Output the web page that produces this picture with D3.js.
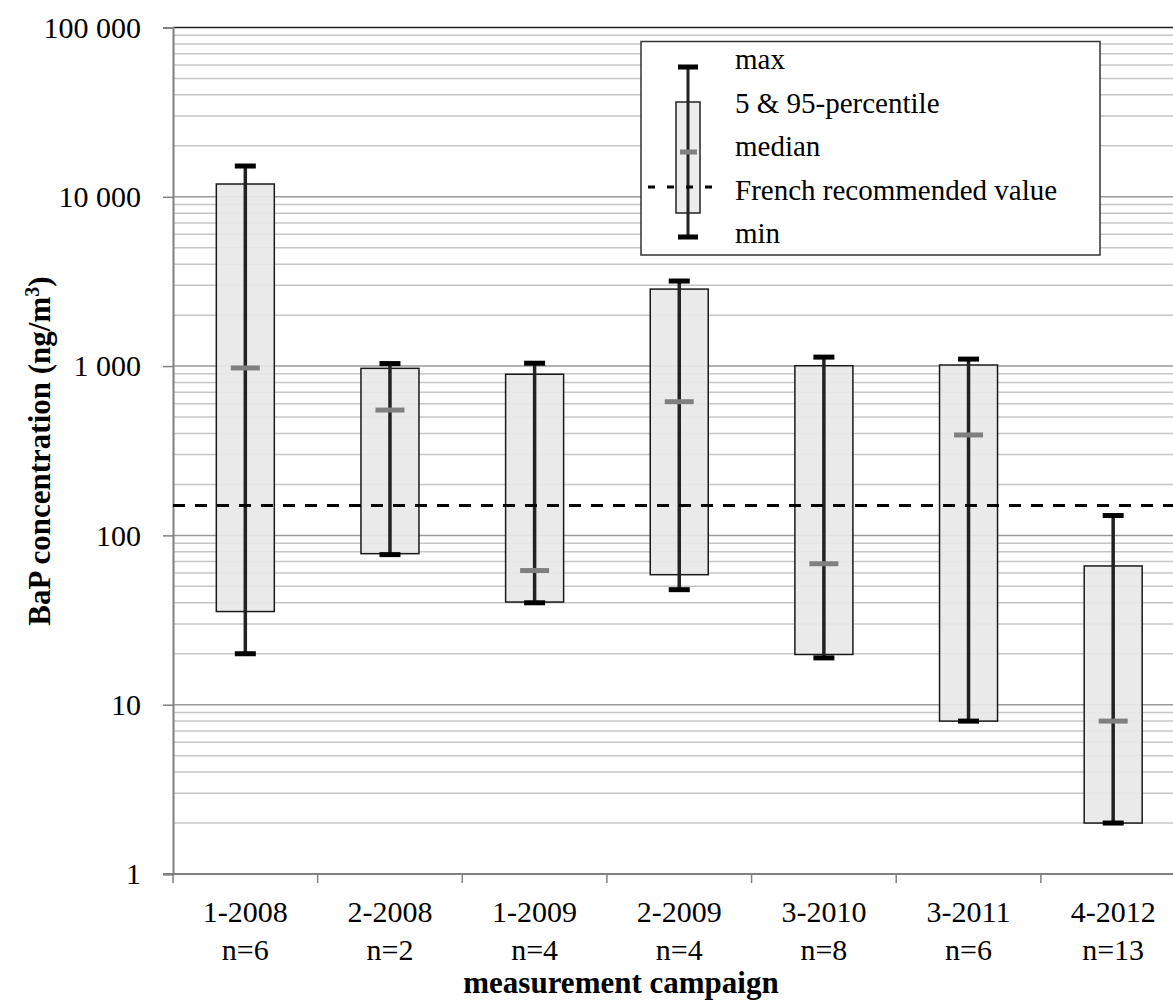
<!DOCTYPE html>
<html>
<head>
<meta charset="utf-8">
<script src="https://cdn.jsdelivr.net/npm/d3@7"></script>
<style>
body { margin: 0; background: #fff; }
</style>
</head>
<body>
<div id="chart"></div>
<script>
var campaigns = ["1-2008", "2-2008", "1-2009", "2-2009", "3-2010", "3-2011", "4-2012"];
var counts = ["n=6", "n=2", "n=4", "n=4", "n=8", "n=6", "n=13"];
var maxVals = [15200, 1035, 1040, 3180, 1130, 1100, 131];
var p95Vals = [11900, 970, 895, 2850, 1005, 1015, 66];
var medianVals = [975, 550, 62, 616, 68, 392, 8];
var p5Vals = [35.5, 78, 40.4, 58.6, 19.8, 8, 2];
var minVals = [20, 77, 40, 47.8, 18.9, 8, 2];
var frenchValue = 150;
var yTicks = [1, 10, 100, 1000, 10000, 100000];
var legendLabels = ["max", "5 & 95-percentile", "median", "French recommended value", "min"];

var serif = "'Liberation Serif', 'Times New Roman', Tinos, serif";

window.onload = function(){
	var w = 1173, h = 1003;
	var left = 173, top = 27.5, bottom = 874, right = 1185.5;

	var svg = d3.select("#chart").append("svg")
		.attr("width", w)
		.attr("height", h);

	var y = d3.scaleLog().domain([1, 100000]).range([bottom, top]);
	var x = d3.scaleBand().domain(campaigns).range([left, right]).padding(0);

	var rows = campaigns.map(function(c, i){
		return {c: c, max: maxVals[i], p95: p95Vals[i], med: medianVals[i], p5: p5Vals[i], min: minVals[i]};
	});

	// minor grid
	var minor = [];
	for (var d = 1; d < 100000; d *= 10) {
		for (var k = 2; k <= 9; k++) minor.push(d * k);
	}
	svg.append("g").selectAll("line").data(minor).enter().append("line")
		.attr("x1", left).attr("x2", w)
		.attr("y1", function(v){ return y(v); }).attr("y2", function(v){ return y(v); })
		.attr("stroke", "#c6c6c6").attr("stroke-width", 1.5);
	svg.append("g").selectAll("line").data(yTicks.slice(1, 5)).enter().append("line")
		.attr("x1", left).attr("x2", w)
		.attr("y1", function(v){ return y(v); }).attr("y2", function(v){ return y(v); })
		.attr("stroke", "#9a9a9a").attr("stroke-width", 1.5);
	// top border
	svg.append("line").attr("x1", left).attr("x2", w)
		.attr("y1", y(100000)).attr("y2", y(100000))
		.attr("stroke", "#222").attr("stroke-width", 1.5);

	// y axis
	var fmt = d3.format(",");
	var yAxis = svg.append("g").attr("transform", "translate(" + left + ",0)")
		.call(d3.axisLeft(y).tickValues(yTicks).tickSize(10).tickPadding(22)
			.tickFormat(function(v){ return fmt(v).replace(/,/g, " "); }));
	yAxis.attr("font-family", serif).attr("font-size", 30);
	yAxis.select(".domain").attr("stroke", "#808080").attr("stroke-width", 2);
	yAxis.selectAll(".tick line").attr("stroke", "#808080").attr("stroke-width", 1.5);
	yAxis.selectAll(".tick text").attr("fill", "#000")
		.attr("font-family", serif).attr("font-size", 30);

	// x axis
	var xAxis = svg.append("g").attr("transform", "translate(0," + bottom + ")");
	xAxis.append("line").attr("x1", left - 10).attr("x2", w)
		.attr("stroke", "#808080").attr("stroke-width", 2);
	xAxis.selectAll(".xt").data(campaigns).enter().append("line")
		.attr("x1", function(c){ return x(c); }).attr("x2", function(c){ return x(c); })
		.attr("y1", 0).attr("y2", 9)
		.attr("stroke", "#808080").attr("stroke-width", 1.5);
	xAxis.selectAll(".xl").data(campaigns).enter().append("text")
		.attr("text-anchor", "middle").attr("font-family", serif).attr("font-size", 30)
		.attr("x", function(c){ return x(c) + x.bandwidth() / 2; }).attr("y", 48)
		.text(function(c){ return c; });
	xAxis.selectAll(".xn").data(counts).enter().append("text")
		.attr("text-anchor", "middle").attr("font-family", serif).attr("font-size", 30)
		.attr("x", function(c, i){ return x(campaigns[i]) + x.bandwidth() / 2; }).attr("y", 86)
		.text(function(c){ return c; });

	// boxes
	var bw = 58, capW = 21, medW = 29;
	var g = svg.append("g").selectAll("g").data(rows).enter().append("g")
		.attr("transform", function(d){ return "translate(" + (x(d.c) + x.bandwidth() / 2) + ",0)"; });
	g.append("rect")
		.attr("x", -bw / 2).attr("width", bw)
		.attr("y", function(d){ return y(d.p95); })
		.attr("height", function(d){ return y(d.p5) - y(d.p95); })
		.attr("fill", "#e8e8e8").attr("fill-opacity", 0.92)
		.attr("stroke", "#1a1a1a").attr("stroke-width", 1.5);
	g.append("line").attr("x1", 0).attr("x2", 0)
		.attr("y1", function(d){ return y(d.max); }).attr("y2", function(d){ return y(d.min); })
		.attr("stroke", "#222").attr("stroke-width", 3.5);
	g.append("line").attr("x1", -capW / 2).attr("x2", capW / 2)
		.attr("y1", function(d){ return y(d.max); }).attr("y2", function(d){ return y(d.max); })
		.attr("stroke", "#000").attr("stroke-width", 5);
	g.append("line").attr("x1", -capW / 2).attr("x2", capW / 2)
		.attr("y1", function(d){ return y(d.min); }).attr("y2", function(d){ return y(d.min); })
		.attr("stroke", "#000").attr("stroke-width", 5);
	g.append("line").attr("x1", -medW / 2).attr("x2", medW / 2)
		.attr("y1", function(d){ return y(d.med); }).attr("y2", function(d){ return y(d.med); })
		.attr("stroke", "#808080").attr("stroke-width", 5);

	// french recommended value
	svg.append("line").attr("x1", left).attr("x2", w)
		.attr("y1", y(frenchValue)).attr("y2", y(frenchValue))
		.attr("stroke", "#000").attr("stroke-width", 3)
		.attr("stroke-dasharray", "12,10");

	// legend
	var lg = svg.append("g");
	lg.append("rect").attr("x", 641).attr("y", 41.5).attr("width", 459).attr("height", 213.5)
		.attr("fill", "#fff").attr("stroke", "#333").attr("stroke-width", 1.5);
	lg.append("rect").attr("x", 676).attr("y", 102).attr("width", 24).attr("height", 111)
		.attr("fill", "#ececec").attr("stroke", "#222").attr("stroke-width", 1.5);
	lg.append("line").attr("x1", 688).attr("x2", 688).attr("y1", 67).attr("y2", 237)
		.attr("stroke", "#222").attr("stroke-width", 3);
	lg.append("line").attr("x1", 678).attr("x2", 698).attr("y1", 67).attr("y2", 67)
		.attr("stroke", "#000").attr("stroke-width", 5);
	lg.append("line").attr("x1", 678).attr("x2", 698).attr("y1", 237).attr("y2", 237)
		.attr("stroke", "#000").attr("stroke-width", 5);
	lg.append("line").attr("x1", 680).attr("x2", 697).attr("y1", 152).attr("y2", 152)
		.attr("stroke", "#808080").attr("stroke-width", 5);
	lg.append("line").attr("x1", 648).attr("x2", 722).attr("y1", 187).attr("y2", 187)
		.attr("stroke", "#000").attr("stroke-width", 3).attr("stroke-dasharray", "7,12");
	lg.selectAll(".lt").data(legendLabels).enter().append("text")
		.attr("x", 735).attr("y", function(d, i){ return 69 + i * 43.5; })
		.attr("font-family", serif).attr("font-size", 29)
		.text(function(d){ return d; });

	// axis titles
	svg.append("text").attr("x", 621).attr("y", 993).attr("text-anchor", "middle")
		.attr("font-family", serif).attr("font-size", 31).attr("font-weight", "bold")
		.text("measurement campaign");
	var yt = svg.append("text").attr("transform", "translate(50,451) rotate(-90)")
		.attr("text-anchor", "middle").attr("font-family", serif)
		.attr("font-size", 31).attr("font-weight", "bold");
	yt.append("tspan").text("BaP concentration (ng/m");
	yt.append("tspan").attr("dy", -11).attr("font-size", 20).text("3");
	yt.append("tspan").attr("dy", 11).text(")");
}
</script>
</body>
</html>
